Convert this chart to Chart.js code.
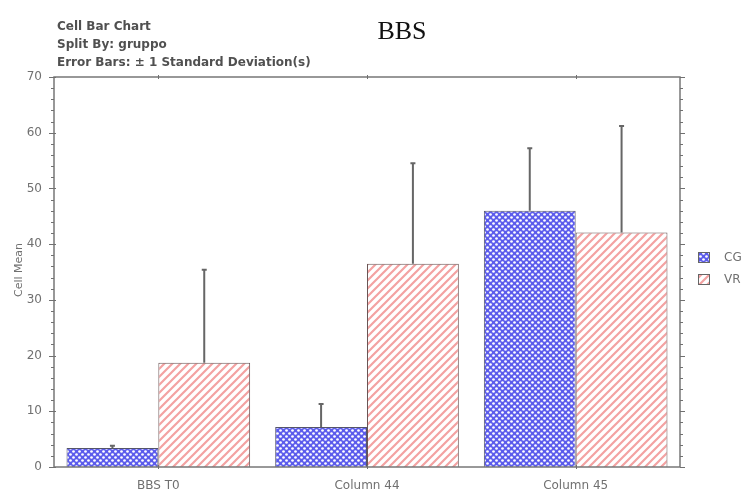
<!DOCTYPE html>
<html>
<head>
<meta charset="utf-8">
<script src="https://cdn.jsdelivr.net/npm/chart.js@4"></script>
<style>
  html, body { margin: 0; padding: 0; background: #ffffff; }
  #wrap { width: 748px; height: 494px; position: relative; }
</style>
</head>
<body>
<div id="wrap"><canvas id="chart" width="748" height="494"></canvas></div>
<script>
// Categories and per-group statistics (cell mean and standard deviation)
const categories = ['BBS T0', 'Column 44', 'Column 45'];
const groupNames = ['CG', 'VR'];
const cgMeans = [3.4, 7.2, 46.0];
const cgSD = [0.4, 4.1, 11.2];
const vrMeans = [18.7, 36.5, 42.1];
const vrSD = [16.7, 18.0, 19.1];
const yTicks = [0, 10, 20, 30, 40, 50, 60, 70];

const headerLines = ['Cell Bar Chart', 'Split By: gruppo', 'Error Bars: \u00b1 1 Standard Deviation(s)'];
const chartTitle = 'BBS';
const yTitle = 'Cell Mean';

// Fill patterns: blue dotted checker and red diagonal hatch
function dotPattern() {
  const c = document.createElement('canvas');
  c.width = 6; c.height = 6;
  const g = c.getContext('2d');
  g.fillStyle = '#5c5cec';
  g.fillRect(0, 0, 6, 6);
  g.fillStyle = '#ffffff';
  g.beginPath(); g.arc(1.5, 1.5, 1.35, 0, Math.PI * 2); g.fill();
  g.beginPath(); g.arc(4.5, 4.5, 1.35, 0, Math.PI * 2); g.fill();
  return g.createPattern(c, 'repeat');
}
function hatchPattern() {
  const s = 8;
  const c = document.createElement('canvas');
  c.width = s; c.height = s;
  const g = c.getContext('2d');
  g.fillStyle = '#ffffff';
  g.fillRect(0, 0, s, s);
  g.strokeStyle = '#f3a2a2';
  g.lineWidth = 2.2;
  g.beginPath();
  g.moveTo(0, s); g.lineTo(s, 0);
  g.moveTo(-1, 1); g.lineTo(1, -1);
  g.moveTo(s - 1, s + 1); g.lineTo(s + 1, s - 1);
  g.stroke();
  return g.createPattern(c, 'repeat');
}

const ctx0 = document.getElementById('chart').getContext('2d');
const cgFill = dotPattern();
const vrFill = hatchPattern();
const sdByDataset = [cgSD, vrSD];

// Upper error whiskers, frame, minor ticks, header texts and legend
const decorations = {
  id: 'decorations',
  afterDatasetsDraw(chart) {
    const ctx = chart.ctx;
    const y = chart.scales.y;
    const x = chart.scales.x;
    const a = chart.chartArea;

    ctx.save();
    // error bars
    ctx.strokeStyle = '#666666';
    ctx.lineWidth = 2;
    chart.data.datasets.forEach((ds, i) => {
      const meta = chart.getDatasetMeta(i);
      meta.data.forEach((bar, j) => {
        const top = y.getPixelForValue(ds.data[j] + sdByDataset[i][j]);
        ctx.beginPath();
        ctx.moveTo(bar.x, bar.y);
        ctx.lineTo(bar.x, top);
        ctx.moveTo(bar.x - 2.5, top);
        ctx.lineTo(bar.x + 2.5, top);
        ctx.stroke();
      });
    });

    // frame
    ctx.strokeStyle = '#777777';
    ctx.lineWidth = 1.5;
    ctx.strokeRect(a.left, a.top, a.right - a.left, a.bottom - a.top);

    // ticks on left and right axes
    ctx.lineWidth = 1;
    ctx.strokeStyle = '#707070';
    for (let v = 0; v <= 70; v += 2) {
      const py = Math.round(y.getPixelForValue(v)) + 0.5;
      const major = v % 10 === 0;
      ctx.beginPath();
      ctx.moveTo(a.left - (major ? 5 : 3), py);
      ctx.lineTo(a.left + (major ? 2 : 0), py);
      ctx.moveTo(a.right, py);
      ctx.lineTo(a.right + (major ? 5 : 3), py);
      ctx.stroke();
    }
    // category ticks on top and bottom
    categories.forEach((c, i) => {
      const px = Math.round(x.getPixelForValue(i)) + 0.5;
      ctx.beginPath();
      ctx.moveTo(px, a.top - 2); ctx.lineTo(px, a.top + 2);
      ctx.moveTo(px, a.bottom - 2); ctx.lineTo(px, a.bottom + 2);
      ctx.stroke();
    });

    // header lines
    ctx.fillStyle = '#505050';
    ctx.font = 'bold 12px "DejaVu Sans"';
    ctx.textBaseline = 'alphabetic';
    ctx.textAlign = 'left';
    headerLines.forEach((t, i) => ctx.fillText(t, 57, 30 + i * 18));

    // main title
    ctx.fillStyle = '#111111';
    ctx.font = '26px "Liberation Serif"';
    ctx.textAlign = 'center';
    ctx.fillText(chartTitle, 402, 39);

    // y axis title
    ctx.save();
    ctx.translate(19, 270);
    ctx.rotate(-Math.PI / 2);
    ctx.fillStyle = '#707070';
    ctx.font = '11px "DejaVu Sans"';
    ctx.textAlign = 'center';
    ctx.textBaseline = 'middle';
    ctx.fillText(yTitle, 0, 0);
    ctx.restore();

    // legend
    const fills = [cgFill, vrFill];
    groupNames.forEach((n, i) => {
      const ly = 252 + i * 22;
      ctx.fillStyle = fills[i];
      ctx.fillRect(698, ly, 12, 11);
      ctx.strokeStyle = '#666666';
      ctx.lineWidth = 1;
      ctx.strokeRect(698.5, ly + 0.5, 11, 10);
      ctx.fillStyle = '#707070';
      ctx.font = '12px "DejaVu Sans"';
      ctx.textAlign = 'left';
      ctx.textBaseline = 'middle';
      ctx.fillText(n, 724, ly + 6);
    });
    ctx.restore();
  }
};

new Chart(ctx0, {
  type: 'bar',
  data: {
    labels: categories,
    datasets: [
      { label: groupNames[0], data: cgMeans, backgroundColor: cgFill, borderColor: '#55556a', borderWidth: 1 },
      { label: groupNames[1], data: vrMeans, backgroundColor: vrFill, borderColor: '#6a5555', borderWidth: 1 }
    ]
  },
  options: {
    responsive: false,
    animation: false,
    layout: { padding: { top: 77, right: 68, left: 0, bottom: 0 } },
    datasets: { bar: { categoryPercentage: 0.88, barPercentage: 1.0 } },
    plugins: { legend: { display: false }, tooltip: { enabled: false }, title: { display: false } },
    scales: {
      x: {
        grid: { display: false, drawTicks: false },
        border: { display: false },
        ticks: { color: '#707070', font: { family: 'DejaVu Sans', size: 12 }, padding: 12, maxRotation: 0 },
        afterFit(s) { s.height = 27; }
      },
      y: {
        min: 0, max: 70,
        grid: { display: false, drawTicks: false },
        border: { display: false },
        afterBuildTicks(s) { s.ticks = yTicks.map(v => ({ value: v })); },
        ticks: { color: '#707070', font: { family: 'DejaVu Sans', size: 12 }, padding: 12 },
        afterFit(s) { s.width = 54; }
      }
    }
  },
  plugins: [decorations]
});
</script>
</body>
</html>
